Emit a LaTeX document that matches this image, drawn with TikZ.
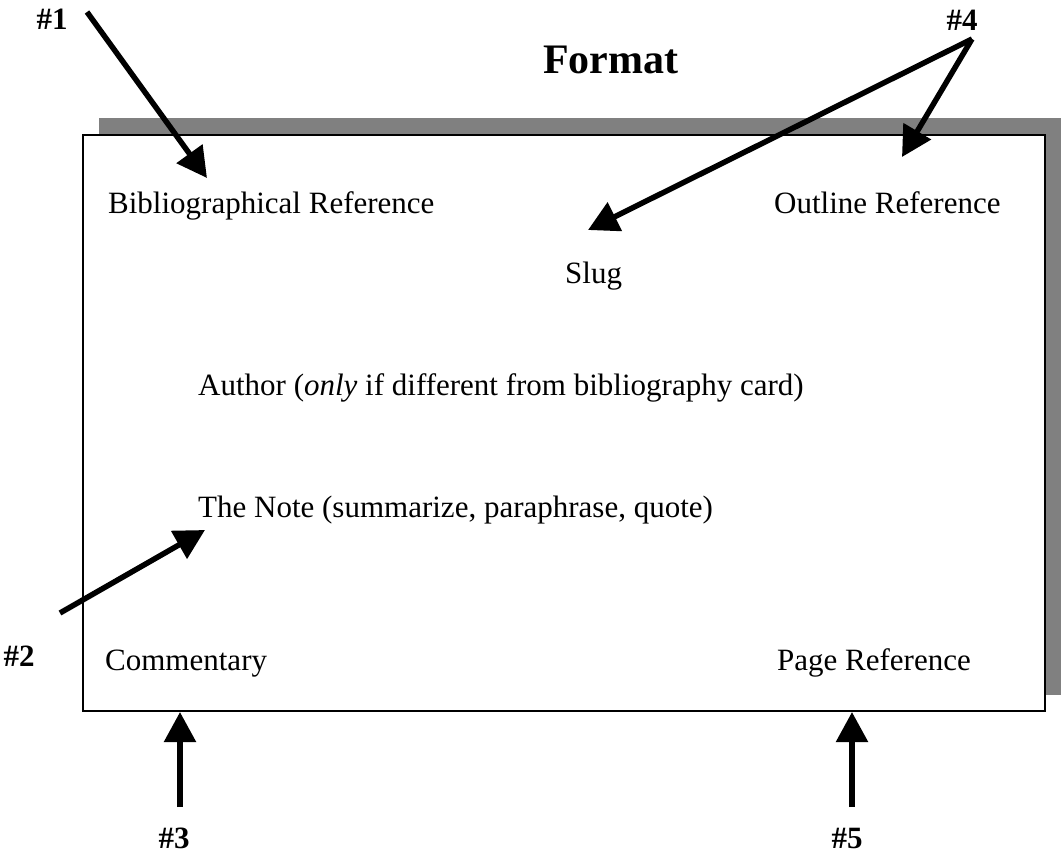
\documentclass[tikz,border=0pt]{standalone}
\usepackage{fontspec}
\setmainfont{Liberation Serif}
\usetikzlibrary{arrows.meta}
\tikzset{
  >={Triangle[length=30pt,width=31pt]},
  x=1pt, y=-1pt,
}
\tikzstyle{pointer}=[line width=5.5pt,->]
\tikzstyle{every node}=[inner sep=0pt,font=\fontsize{31}{37}\selectfont]
\tikzstyle{entry}=[anchor=base west]
\tikzstyle{tag}=[font=\fontsize{31}{37}\selectfont\bfseries]
\begin{document}
\begin{tikzpicture}
    \useasboundingbox (0,0) rectangle (1061,855);
    % card and its shadow
    \fill[gray] (99,118) rectangle (1061,695);
    \draw[line width=2pt,fill=white] (83,135) rectangle (1045,711);
    \node[entry,font=\fontsize{42}{50}\selectfont\bfseries] (title) at (543,73) {Format};
    % fields on the card
    \node[entry] (biblio) at (108,213) {Bibliographical Reference};
    \node[entry] (outline) at (774,213) {Outline Reference};
    \node[entry] (slug) at (565,283) {Slug};
    \node[entry] (author) at (198,395) {Author (\textit{only} if different from bibliography card)};
    \node[entry] (note) at (198,517) {The Note (summarize, paraphrase, quote)};
    \node[entry] (comment) at (105,670) {Commentary};
    \node[entry] (page) at (777,670) {Page Reference};
    % numbered tags
    \node[tag] (n1) at (52,19) {\#1};
    \node[tag] (n2) at (19,656) {\#2};
    \node[tag] (n3) at (174,838) {\#3};
    \node[tag] (n4) at (962,20) {\#4};
    \node[tag] (n5) at (847,838) {\#5};
    \coordinate (tail1) at (87,12);
    \coordinate (tip1) at (207,178);
    \coordinate (tail2) at (60,613);
    \coordinate (tip2) at (205,530);
    \coordinate (tail3) at (180,807);
    \coordinate (tip3) at (180,712);
    \coordinate (apex4) at (972,39);
    \coordinate (tip4a) at (902,157);
    \coordinate (tip4b) at (588,230);
    \coordinate (tail5) at (852,807);
    \coordinate (tip5) at (852,712);
    \draw[pointer] (tail1)--(tip1);
    \draw[pointer] (tail2)--(tip2);
    \draw[pointer] (tail3)--(tip3);
    \draw[pointer] (apex4)--(tip4a);
    \draw[pointer] (apex4)--(tip4b);
    \draw[pointer] (tail5)--(tip5);
\end{tikzpicture}
\end{document}
